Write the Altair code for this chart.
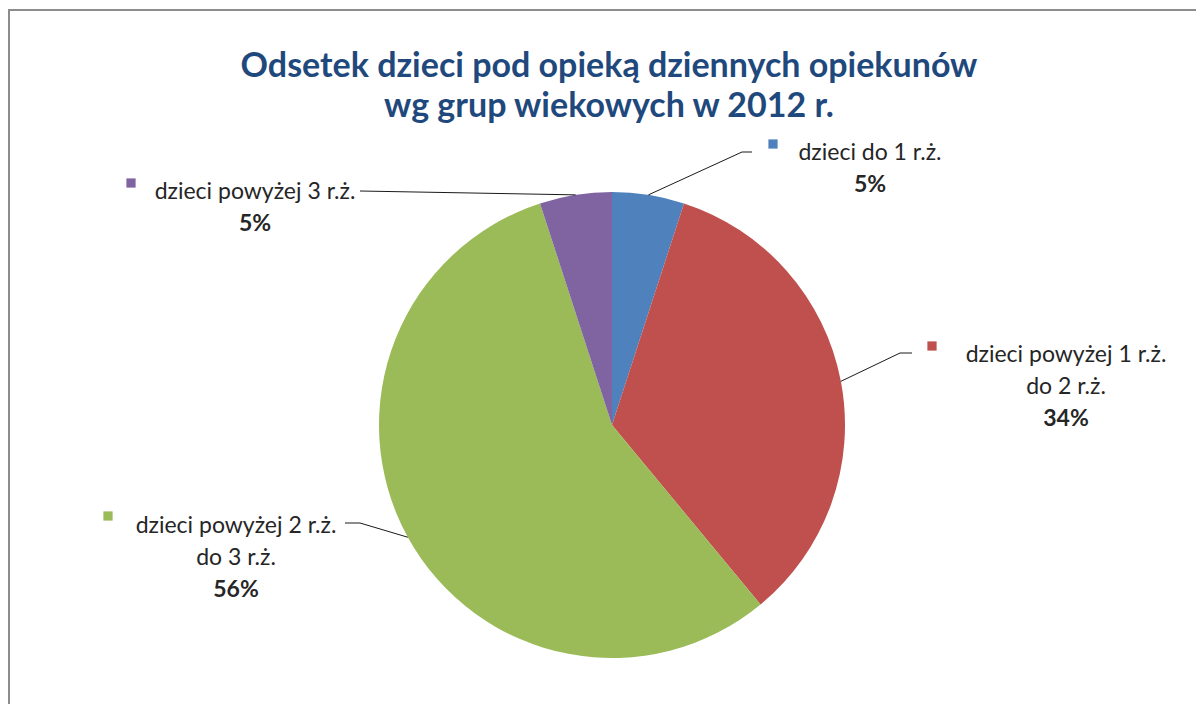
import math
import altair as alt
import pandas as pd

# ---------------- data ----------------
categories = [
    "dzieci do 1 r.ż.",
    "dzieci powyżej 1 r.ż.\ndo 2 r.ż.",
    "dzieci powyżej 2 r.ż.\ndo 3 r.ż.",
    "dzieci powyżej 3 r.ż.",
]
values = [5, 34, 56, 5]
title_lines = ["Odsetek dzieci pod opieką dziennych opiekunów", "wg grup wiekowych w 2012 r."]

# ---------------- styles / layout ----------------
colors = ["#4F81BD", "#C0504D", "#9BBB59", "#8064A2"]
W, H = 1188, 696
CX, CY, R = 604, 417, 233          # pie centre and radius (px, chart coords)
FONT = "Lato"
TXT = 23
LH = 32
label_x = [862, 1058, 228, 247]     # label block centre x
label_y = [145, 347, 518, 184]      # first-line baseline
marker_x = [765, 924, 100, 123]
marker_y = [136, 338, 508, 175]
title_y = [59, 99]
# leader-line far ends (near the labels), each a list of points
leader_end = [
    [(744, 144), (734, 144)],
    [(904, 345), (892, 345)],
    [(337, 515), (352, 515)],
    [(352, 183)],
]

df = pd.DataFrame({"cat": categories, "val": values, "idx": range(len(values))})
total = sum(values)

pie = alt.Chart(df).mark_arc(outerRadius=R).encode(
    theta=alt.Theta("val:Q", stack=True),
    color=alt.Color("cat:N", scale=alt.Scale(domain=categories, range=colors), legend=None),
    order=alt.Order("idx:Q"),
    x=alt.value(CX),
    y=alt.value(CY),
)

# leader lines: start at slice mid-angle on the pie edge
rows = []
cum = 0
for i, v in enumerate(values):
    mid = (cum + v / 2) / total * 2 * math.pi
    cum += v
    sx = CX + R * math.sin(mid)
    sy = CY - R * math.cos(mid)
    pts = [(sx, sy)] + list(reversed(leader_end[i]))
    for k, (px, py) in enumerate(pts):
        rows.append({"sid": i, "ord": k, "px": px, "py": py})
lines_df = pd.DataFrame(rows)
leaders = alt.Chart(lines_df).mark_line(color="#1a1a1a", strokeWidth=1).encode(
    x=alt.X("px:Q", scale=None, axis=None),
    y=alt.Y("py:Q", scale=None, axis=None),
    detail="sid:N",
    order="ord:Q",
)

lab = pd.DataFrame({
    "cat": categories,
    "pct": [f"{v}%" for v in values],
    "lx": label_x,
    "ly": label_y,
    "py": [y + LH * c.count("\n") + LH for y, c in zip(label_y, categories)],
    "mx": marker_x,
    "my": marker_y,
})

names = alt.Chart(lab).mark_text(
    font=FONT, fontSize=TXT, color="#262626", align="center", lineBreak="\n", lineHeight=LH
).encode(
    x=alt.X("lx:Q", scale=None, axis=None),
    y=alt.Y("ly:Q", scale=None, axis=None),
    text="cat:N",
)
pcts = alt.Chart(lab).mark_text(
    font=FONT, fontSize=TXT, fontWeight="bold", color="#262626", align="center"
).encode(
    x=alt.X("lx:Q", scale=None, axis=None),
    y=alt.Y("py:Q", scale=None, axis=None),
    text="pct:N",
)
markers = alt.Chart(lab).mark_square(size=85, opacity=1).encode(
    x=alt.X("mx:Q", scale=None, axis=None),
    y=alt.Y("my:Q", scale=None, axis=None),
    color=alt.Color("cat:N", scale=alt.Scale(domain=categories, range=colors), legend=None),
)

title_df = pd.DataFrame({"t": title_lines, "ty": title_y})
title = alt.Chart(title_df).mark_text(
    font=FONT, fontSize=34, fontWeight="bold", color="#1F497D", align="center",
).encode(
    x=alt.value(601),
    y=alt.Y("ty:Q", scale=None, axis=None),
    text="t:N",
)

frame = alt.Chart(pd.DataFrame({"t": [0]})).mark_rule(color="#8C8C8C", strokeWidth=2).encode(
    x=alt.value(0), x2=alt.value(W), y=alt.value(2)
)
frame2 = alt.Chart(pd.DataFrame({"t": [0]})).mark_rule(color="#8C8C8C", strokeWidth=2).encode(
    x=alt.value(1), y=alt.value(2), y2=alt.value(H)
)

chart = alt.layer(frame, frame2, pie, leaders, markers, names, pcts, title).properties(
    width=W, height=H, padding=0, autosize=alt.AutoSizeParams(type="none"),
    background="white",
).configure_view(stroke=None)

chart.save("out.html", embed_options={"renderer": "svg", "actions": False})
